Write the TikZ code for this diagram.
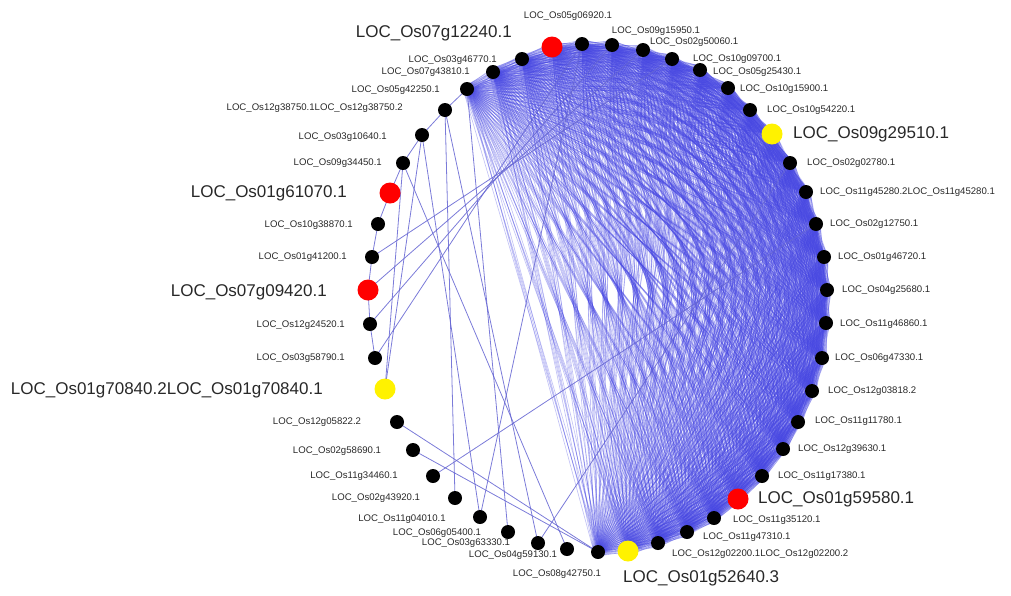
\documentclass[tikz,border=0pt]{standalone}
\usepackage{fontspec}
\setmainfont{Liberation Sans}
\usetikzlibrary{backgrounds}
\definecolor{sparse}{RGB}{100,100,210}
\definecolor{meshblue}{RGB}{70,70,225}
\definecolor{labgray}{RGB}{40,40,40}
\tikzset{
  bnode/.style={circle,fill=black,inner sep=0pt,minimum size=14pt},
  rnode/.style={circle,fill=red,inner sep=0pt,minimum size=21pt},
  ynode/.style={circle,fill=yellow,inner sep=0pt,minimum size=21pt},
  slab/.style={inner sep=0pt,text=labgray,font=\fontsize{9.6}{10}\selectfont},
  blab/.style={inner sep=0pt,text=labgray,font=\fontsize{17}{18}\selectfont},
  mesh/.style={draw=meshblue,opacity=0.33,line width=0.65pt},
  sparseedge/.style={draw=sparse,line width=0.8pt,opacity=0.85}
}
\begin{document}
\begin{tikzpicture}[x=1pt,y=-1pt]
\useasboundingbox (0,0) rectangle (1011,595);
% nodes
\foreach \n/\x/\y in {2/582/44,3/612/45,4/643/50,5/672/59,6/700/70,7/728/88,8/750/110,
  10/790/163,11/806/192,12/816/224,13/824/257,14/827/290,15/826/323,16/822/358,
  17/812/391,18/798/422,19/783/449,20/762/476,22/714/518,23/687/532,24/658/543,
  26/598/552,27/567/549,28/538/543,29/508/532,30/480/517,31/455/498,32/433/476,
  33/413/450,34/397/422,36/375/358,37/370/324,39/372/257,40/378/224,42/403/163,
  43/422/135,44/445/110,45/467/89,46/493/72,47/522/59}
  \node[bnode] (n\n) at (\x,\y) {};
\foreach \n/\x/\y in {1/552/47,21/738/499,38/368/290,41/390/193}
  \node[rnode] (n\n) at (\x,\y) {};
\foreach \n/\x/\y in {9/772/134,25/628/551,35/385/389}
  \node[ynode] (n\n) at (\x,\y) {};
% labels, west-anchored small
\foreach \n/\x/\y/\t in {4/650/42/Os02g50060.1,5/693/59/Os10g09700.1,6/713/72/Os05g25430.1,
  7/740/89/Os10g15900.1,8/767/110/Os10g54220.1,10/807/163/Os02g02780.1,
  11/820/192/Os11g45280.2LOC\_Os11g45280.1,12/830/224/Os02g12750.1,
  13/838/257/Os01g46720.1,14/842/290/Os04g25680.1,15/840/324/Os11g46860.1,
  16/835/358/Os06g47330.1,17/828/391/Os12g03818.2,18/815/421/Os11g11780.1,
  19/798/449/Os12g39630.1,20/778/476/Os11g17380.1,22/733/520/Os11g35120.1,
  23/703/537/Os11g47310.1,24/672/554/Os12g02200.1LOC\_Os12g02200.2}
  \node[slab,anchor=west] (l\n) at (\x,\y) {LOC\_\t};
% centre small
\foreach \n/\x/\y/\t in {2/568/16/Os05g06920.1,3/656/31/Os09g15950.1,26/557/574/Os08g42750.1,
  27/513/555/Os04g59130.1,28/466/543/Os03g63330.1,29/437/533/Os06g05400.1,
  30/402/519/Os11g04010.1,31/376/498/Os02g43920.1,32/354/476/Os11g34460.1,
  33/337/451/Os02g58690.1,34/317/422/Os12g05822.2}
  \node[slab] (l\n) at (\x,\y) {LOC\_\t};
% east small
\foreach \n/\x/\y/\t in {36/345/358/Os03g58790.1,37/345/325/Os12g24520.1,39/347/257/Os01g41200.1,
  40/353/225/Os10g38870.1,42/382/163/Os09g34450.1,43/387/137/Os03g10640.1,
  44/403/108/Os12g38750.1LOC\_Os12g38750.2,45/440/90/Os05g42250.1,
  46/470/72/Os07g43810.1,47/497/60/Os03g46770.1}
  \node[slab,anchor=east] (l\n) at (\x,\y) {LOC\_\t};
% big labels
\node[blab,anchor=east] (l1) at (512,33) {LOC\_Os07g12240.1};
\node[blab,anchor=west] (l9) at (793,134) {LOC\_Os09g29510.1};
\node[blab,anchor=west] (l21) at (758,499) {LOC\_Os01g59580.1};
\node[blab,anchor=west] (l25) at (623,578) {LOC\_Os01g52640.3};
\node[blab,anchor=east] (l35) at (323,390) {LOC\_Os01g70840.2LOC\_Os01g70840.1};
\node[blab,anchor=east] (l38) at (327,292) {LOC\_Os07g09420.1};
\node[blab,anchor=east] (l41) at (347,193) {LOC\_Os01g61070.1};
% edges
\begin{scope}[on background layer]
\foreach \i [count=\a] in {45,46,47,1,2,3,4,5,6,7,8,9,10,11,12,13,14,15,16,17,18,19,20,21,22,23,24,25,26}{
  \foreach \j [count=\b] in {45,46,47,1,2,3,4,5,6,7,8,9,10,11,12,13,14,15,16,17,18,19,20,21,22,23,24,25,26}{
    \ifnum\b>\a
      \draw[mesh] (n\i.center) -- (n\j.center);
      \draw[mesh] ([shift={(4,0)}]n\i.center) -- ([shift={(0,4)}]n\j.center);
      \draw[mesh] ([shift={(0,-4)}]n\i.center) -- ([shift={(-4,0)}]n\j.center);
      \draw[mesh] ([shift={(-4,0)}]n\i.center) -- ([shift={(0,-4)}]n\j.center);
      \draw[mesh] ([shift={(0,4)}]n\i.center) -- ([shift={(4,0)}]n\j.center);
    \fi
  }
}
\foreach \i/\j in {34/26,33/26,32/12,31/44,30/43,30/2,29/45,28/10,27/42,28/44,
  35/42,35/43,38/4,37/3,36/2,39/5,
  45/44,44/43,43/42,42/41,41/40,40/39,39/38,38/37,37/36}
  \draw[sparseedge] (n\i.center) -- (n\j.center);
\end{scope}
\end{tikzpicture}
\end{document}
